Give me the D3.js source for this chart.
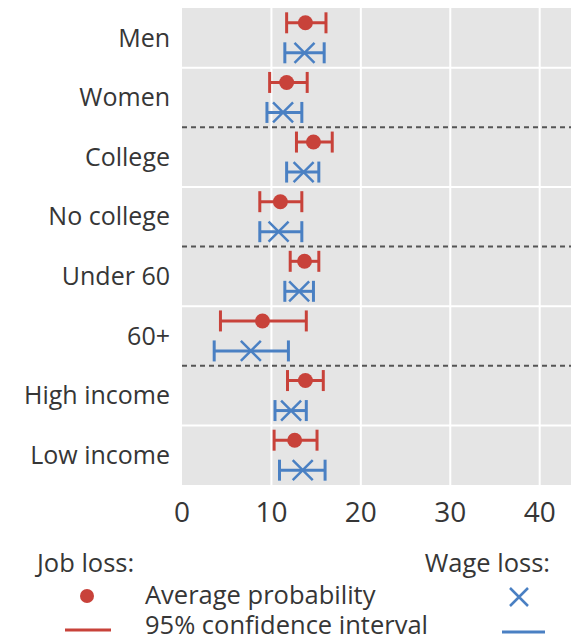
<!DOCTYPE html>
<html>
<head>
<meta charset="utf-8">
<script src="https://cdn.jsdelivr.net/npm/d3@7"></script>
<style>
  html, body { margin: 0; padding: 0; background: #fff; }
  svg { display: block; }
  text { font-family: "Open Sans", "Noto Sans", sans-serif; fill: #363636; }
</style>
</head>
<body>
<svg id="chart" width="571" height="641"></svg>
<script>
// Subgroups shown top to bottom
const categories = ["Men", "Women", "College", "No college", "Under 60", "60+", "High income", "Low income"];

// Job loss: average probability and 95% confidence interval (percent)
const jobMean = [13.8, 11.7, 14.7, 11.0, 13.7, 9.0, 13.8, 12.6];
const jobLow  = [11.7,  9.8, 12.8,  8.7, 12.1, 4.3, 11.8, 10.3];
const jobHigh = [16.1, 14.0, 16.8, 13.4, 15.3, 13.9, 15.8, 15.1];

// Wage loss: average probability and 95% confidence interval (percent)
const wageMean = [13.7, 11.3, 13.6, 10.8, 13.1, 7.7, 12.2, 13.5];
const wageLow  = [11.5,  9.5, 11.7,  8.7, 11.5, 3.6, 10.4, 10.9];
const wageHigh = [15.9, 13.4, 15.3, 13.4, 14.7, 11.9, 13.9, 16.0];

const xTicks = [0, 10, 20, 30, 40];
// Pairs of subgroups are split by a dashed rule after these indices
const groupBreaks = [1, 3, 5];

const red = "#c8423a";
const blue = "#4a80c3";

const svg = d3.select("#chart");
const plot = { left: 182, right: 571, top: 8, bottom: 485 };

const x = d3.scaleLinear().domain([0, 43.5]).range([plot.left, plot.right]);
const y = d3.scaleBand().domain(categories).range([plot.top, plot.bottom]);
const offset = 15;

// Panel background
svg.append("rect")
  .attr("x", plot.left).attr("y", plot.top)
  .attr("width", plot.right - plot.left).attr("height", plot.bottom - plot.top)
  .attr("fill", "#e5e5e5");

// Vertical grid
svg.append("g").selectAll("line")
  .data(xTicks.filter(d => d > 0))
  .join("line")
  .attr("x1", d => x(d)).attr("x2", d => x(d))
  .attr("y1", plot.top).attr("y2", plot.bottom)
  .attr("stroke", "#fff").attr("stroke-width", 2);

// Horizontal rules between subgroups: solid white within a pair, dashed between pairs
const boundaries = d3.range(1, categories.length).map(i => ({
  i, yPos: y(categories[i]), dashed: groupBreaks.includes(i - 1)
}));
svg.append("g").selectAll("line")
  .data(boundaries.filter(d => !d.dashed))
  .join("line")
  .attr("x1", plot.left).attr("x2", plot.right)
  .attr("y1", d => d.yPos).attr("y2", d => d.yPos)
  .attr("stroke", "#fff").attr("stroke-width", 2);
svg.append("g").selectAll("line")
  .data(boundaries.filter(d => d.dashed))
  .join("line")
  .attr("x1", plot.left).attr("x2", plot.right)
  .attr("y1", d => d.yPos).attr("y2", d => d.yPos)
  .attr("stroke", "#555").attr("stroke-width", 2)
  .attr("stroke-dasharray", "5,4");

// Category labels
svg.append("g").selectAll("text")
  .data(categories)
  .join("text")
  .attr("x", plot.left - 12)
  .attr("y", d => y(d) + y.bandwidth() / 2)
  .attr("dy", "0.35em")
  .attr("text-anchor", "end")
  .attr("font-size", 25)
  .text(d => d);

// X tick labels
svg.append("g").selectAll("text")
  .data(xTicks)
  .join("text")
  .attr("x", d => x(d))
  .attr("y", 522)
  .attr("text-anchor", "middle")
  .attr("font-size", 28)
  .text(d => d);

// Error bars with caps
function errorBars(lo, hi, dy, color) {
  const g = svg.append("g").attr("stroke", color).attr("stroke-width", 3).attr("fill", "none");
  categories.forEach((c, i) => {
    const cy = y(c) + y.bandwidth() / 2 + dy;
    g.append("line").attr("x1", x(lo[i])).attr("x2", x(hi[i])).attr("y1", cy).attr("y2", cy);
    g.append("line").attr("x1", x(lo[i])).attr("x2", x(lo[i])).attr("y1", cy - 10.5).attr("y2", cy + 10.5);
    g.append("line").attr("x1", x(hi[i])).attr("x2", x(hi[i])).attr("y1", cy - 10.5).attr("y2", cy + 10.5);
  });
}
errorBars(jobLow, jobHigh, -offset, red);
errorBars(wageLow, wageHigh, offset, blue);

// Job loss means: dots
svg.append("g").selectAll("circle")
  .data(categories)
  .join("circle")
  .attr("cx", (d, i) => x(jobMean[i]))
  .attr("cy", d => y(d) + y.bandwidth() / 2 - offset)
  .attr("r", 7.5)
  .attr("fill", red);

// Wage loss means: crosses
const crossPath = (cx, cy, s) =>
  `M${cx - s},${cy - s}L${cx + s},${cy + s}M${cx - s},${cy + s}L${cx + s},${cy - s}`;
svg.append("g").selectAll("path")
  .data(categories)
  .join("path")
  .attr("d", (d, i) => crossPath(x(wageMean[i]), y(d) + y.bandwidth() / 2 + offset, 10))
  .attr("stroke", blue).attr("stroke-width", 2.5).attr("fill", "none");

// Legend
const legend = svg.append("g").attr("font-size", 25.5);
legend.append("text").attr("x", 37).attr("y", 572).text("Job loss:");
legend.append("text").attr("x", 550).attr("y", 572).attr("text-anchor", "end").text("Wage loss:");
legend.append("circle").attr("cx", 87).attr("cy", 596).attr("r", 7).attr("fill", red);
legend.append("text").attr("x", 145).attr("y", 604).text("Average probability");
legend.append("path").attr("d", crossPath(519, 597, 9))
  .attr("stroke", blue).attr("stroke-width", 2.5).attr("fill", "none");
legend.append("line").attr("x1", 65).attr("x2", 111).attr("y1", 630).attr("y2", 630)
  .attr("stroke", red).attr("stroke-width", 3);
legend.append("text").attr("x", 145).attr("y", 634).text("95% confidence interval");
legend.append("line").attr("x1", 502).attr("x2", 545).attr("y1", 632).attr("y2", 632)
  .attr("stroke", blue).attr("stroke-width", 3);
</script>
</body>
</html>
